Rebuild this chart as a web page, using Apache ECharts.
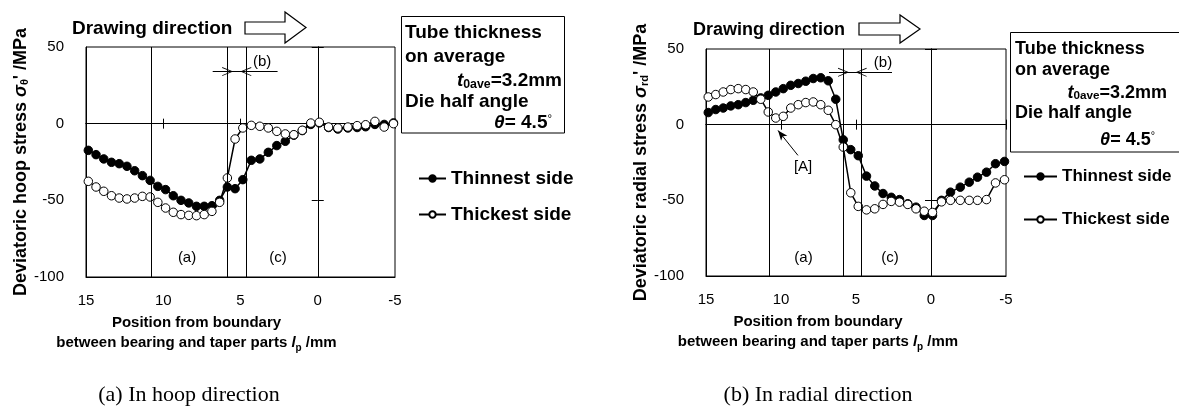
<!DOCTYPE html>
<html>
<head>
<meta charset="utf-8">
<script src="https://cdn.jsdelivr.net/npm/echarts@6.0.0/dist/echarts.min.js"></script>
<style>
html, body { margin: 0; padding: 0; background: #fff; }
#main { width: 1179px; height: 410px; }
</style>
</head>
<body>
<div id="main"></div>
<script>
// measuring positions (mm), shared by both panels
const positions = [14.85, 14.35, 13.85, 13.35, 12.85, 12.35, 11.85, 11.35, 10.85, 10.35,
  9.85, 9.35, 8.85, 8.35, 7.85, 7.35, 6.85, 6.35, 5.85, 5.35,
  4.85, 4.3, 3.75, 3.2, 2.65, 2.1, 1.55, 1.0, 0.45, -0.1,
  -0.7, -1.3, -1.95, -2.55, -3.1, -3.7, -4.3, -4.9]

// (a) hoop direction
const hoopThinnest = [-17.4, -20.2, -23, -25.2, -26.1, -27.8, -30.7, -33.9, -37, -40.9,
  -43, -47, -50, -51.7, -53.9, -53.9, -53.5, -50, -41.3, -42.4,
  -36.5, -23.9, -23, -18.7, -14.3, -11.5, -7.5, -4.5, -0.5, 0.5,
  -2.5, -3.5, -2.8, -2.5, -2, -0.5, -0.5, 0.5]
const hoopThickest = [-37.6, -41.3, -44.1, -47, -48.5, -49.1, -48.5, -47.4, -47.8, -51.3,
  -55, -57.8, -59.3, -59.8, -60, -59.3, -57.2, -51.3, -35.4, -10,
  -2.8, -1.1, -1.7, -2.8, -5, -6.7, -7.2, -4.3, 0.4, 0.9,
  -2.2, -2.8, -2.2, -1.3, -0.7, 1.5, -2.2, 0]

// (b) radial direction
const radialThinnest = [8, 10, 11, 12.4, 13.2, 14.6, 16.1, 17.7, 19.4, 21.6,
  23.8, 26, 27.2, 28.7, 30.5, 31, 29, 16.8, -10, -16.5,
  -20.5, -34, -40.5, -45.5, -48, -49.5, -52.3, -54.5, -60, -60,
  -50, -44.6, -41.3, -38, -34.7, -31.4, -25.8, -24.3]
const radialThickest = [18.3, 19.9, 21.6, 23.2, 23.8, 23.2, 21.6, 16.8, 8.4, 4.4,
  5.5, 11, 13.2, 14.6, 15, 13.2, 9.5, 0, -14.8, -45,
  -54, -56.3, -55.6, -52.7, -50.7, -51.2, -52.7, -55.6, -57.2, -58,
  -51, -50, -50, -50, -50, -49.5, -38.5, -36.4]

// region boundaries (a)|(b)|(c)|bearing
const boundaries = [10.8, 5.83, 4.66]
const xTicks = { min: -5, max: 15, interval: 5 }
const yTicks = { min: -100, max: 50, interval: 50 }
const legendNames = ['Thinnest side', 'Thickest side']

const FONT = 'Liberation Sans'
const chevron = 'path://M0,10 L5,0 L10,10 L9,10 L5,2 L1,10 Z'

let myChart = echarts.init(document.getElementById('main'))

function pairs(ys) {
  return positions.map((x, i) => [x, ys[i]])
}

function xAxes(g, yBase, nameGap, shift) {
  let base = { gridIndex: g, type: 'value', min: xTicks.min, max: xTicks.max, interval: xTicks.interval,
    inverse: true, position: 'bottom', splitLine: { show: false } }
  return [
    Object.assign({}, base, {
      axisLine: { show: true, onZero: false, lineStyle: { color: '#000', width: 1 } },
      axisTick: { show: false },
      axisLabel: { color: '#000', fontSize: 15, margin: 16, fontFamily: FONT },
      name: 'Position from boundary\nbetween bearing and taper parts {i|l}{p|p} /mm',
      nameLocation: 'middle', nameGap: nameGap,
      nameTextStyle: { color: '#000', fontSize: 15, fontWeight: 'bold', fontFamily: FONT, lineHeight: 20,
        padding: [0, shift, 0, 0],
        rich: {
          i: { fontSize: 15, fontWeight: 'bold', fontStyle: 'italic', fontFamily: FONT, color: '#000', lineHeight: 20 },
          p: { fontSize: 10, fontWeight: 'bold', fontFamily: FONT, color: '#000', verticalAlign: 'bottom', lineHeight: 20 }
        } }
    }),
    Object.assign({}, base, {
      axisLine: { show: true, onZero: true, onZeroAxisIndex: yBase, lineStyle: { color: '#000', width: 1 } },
      axisTick: { show: true, inside: true, length: 5, lineStyle: { color: '#000' } },
      axisLabel: { show: false }
    }),
    Object.assign({}, base, {
      axisLine: { show: true, onZero: true, onZeroAxisIndex: yBase, lineStyle: { color: '#000', width: 1 } },
      axisTick: { show: true, inside: false, length: 5, lineStyle: { color: '#000' } },
      axisLabel: { show: false }
    })
  ]
}

function yAxes(g, xBase, name, sub, nameGap) {
  let base = { gridIndex: g, type: 'value', min: yTicks.min, max: yTicks.max, interval: yTicks.interval,
    position: 'left', splitLine: { show: false } }
  return [
    Object.assign({}, base, {
      axisLine: { show: true, onZero: false, lineStyle: { color: '#000', width: 1 } },
      axisTick: { show: false },
      axisLabel: { color: '#000', fontSize: 15, margin: 22, fontFamily: FONT },
      name: name + ' {s|σ}{b|' + sub + '}{n|\' /MPa}',
      nameLocation: 'middle', nameRotate: 90, nameGap: nameGap,
      nameTextStyle: { color: '#000', fontSize: 18, fontWeight: 'bold', fontFamily: FONT,
        rich: {
          s: { fontSize: 18, fontWeight: 'bold', fontStyle: 'italic', fontFamily: FONT, color: '#000' },
          b: { fontSize: 11, fontWeight: 'bold', fontFamily: FONT, color: '#000', verticalAlign: 'bottom' },
          n: { fontSize: 18, fontWeight: 'bold', fontFamily: FONT, color: '#000' }
        } }
    }),
    Object.assign({}, base, {
      axisLine: { show: true, onZero: true, onZeroAxisIndex: xBase, lineStyle: { color: '#000', width: 1 } },
      axisTick: { show: true, inside: true, length: 6, lineStyle: { color: '#000' } },
      axisLabel: { show: false }
    }),
    Object.assign({}, base, {
      axisLine: { show: true, onZero: true, onZeroAxisIndex: xBase, lineStyle: { color: '#000', width: 1 } },
      axisTick: { show: true, inside: false, length: 6, lineStyle: { color: '#000' } },
      axisLabel: { show: false }
    })
  ]
}

function labelPoints(list) {
  return {
    symbol: 'rect', symbolSize: 1, silent: true, animation: false,
    itemStyle: { color: 'rgba(0,0,0,0)' },
    label: { show: true, position: 'inside', formatter: '{b}', color: '#000', fontSize: 15, fontFamily: FONT },
    data: list.map(p => ({ name: p[0], coord: [p[1], p[2]] }))
  }
}

function regionLines(yB, xFrom, xTo) {
  let data = boundaries.map(b => ({ xAxis: b }))
  data.push([{ coord: [xFrom, yB] }, { coord: [boundaries[1], yB], symbol: chevron, symbolSize: [9, 11] }])
  data.push([{ coord: [xTo, yB] }, { coord: [boundaries[2], yB], symbol: chevron, symbolSize: [9, 11] }])
  data.push([{ coord: [boundaries[1], yB] }, { coord: [boundaries[2], yB] }])
  return {
    silent: true, animation: false, symbol: ['none', 'none'],
    label: { show: false },
    lineStyle: { color: '#000', width: 1, type: 'solid' },
    data: data
  }
}

function lineSeries(name, g, ys, filled, extra) {
  return Object.assign({
    name: name, type: 'line', xAxisIndex: g * 3, yAxisIndex: g * 3,
    data: pairs(ys), symbol: 'circle', symbolSize: 8.5, showSymbol: true,
    lineStyle: { color: '#000', width: 1.5 },
    itemStyle: { color: filled ? '#000' : '#fff', borderColor: '#000', borderWidth: 1 },
    z: filled ? 3 : 4
  }, extra || {})
}

function textBox(x0, y0, w, h, tx, ys, rx1, rx2, size) {
  let font = { fontSize: size, fontWeight: 'bold', fontFamily: FONT, fill: '#000', verticalAlign: 'middle' }
  return [
    { type: 'rect', shape: { x: x0, y: y0, width: w, height: h }, style: { fill: '#fff', stroke: '#000', lineWidth: 1 } },
    { type: 'text', x: tx, y: ys[0], style: Object.assign({ text: 'Tube thickness' }, font) },
    { type: 'text', x: tx, y: ys[1], style: Object.assign({ text: 'on average' }, font) },
    { type: 'text', x: rx1, y: ys[2], style: Object.assign({ text: '{t|t}{s|0ave}=3.2mm', align: 'right',
      rich: { t: { fontSize: size, fontWeight: 'bold', fontStyle: 'italic', fontFamily: FONT, fill: '#000' },
              s: { fontSize: size * 0.65, fontWeight: 'bold', fontFamily: FONT, fill: '#000', verticalAlign: 'bottom' } } }, font) },
    { type: 'text', x: tx, y: ys[3], style: Object.assign({ text: 'Die half angle' }, font) },
    { type: 'text', x: rx2, y: ys[4], style: Object.assign({ text: '{t|θ}= 4.5{d|°}', align: 'right',
      rich: { t: { fontSize: size, fontWeight: 'bold', fontStyle: 'italic', fontFamily: FONT, fill: '#000' },
              d: { fontSize: size * 0.6, fontFamily: FONT, fill: '#000', verticalAlign: 'top' } } }, font) }
  ]
}

function drawingArrow(tx, ty, pts, size) {
  return [
    { type: 'text', x: tx, y: ty, style: { text: 'Drawing direction', fontSize: size, fontWeight: 'bold', fontFamily: FONT, fill: '#000', verticalAlign: 'middle' } },
    { type: 'polygon', shape: { points: pts }, style: { fill: '#fff', stroke: '#000', lineWidth: 1.2 } }
  ]
}

let option = {
  animation: false,
  backgroundColor: '#fff',
  textStyle: { fontFamily: FONT, color: '#000' },
  grid: [
    { left: 86, top: 47, width: 309, height: 230, show: true, borderColor: '#000', borderWidth: 1, backgroundColor: 'rgba(0,0,0,0)' },
    { left: 706, top: 49, width: 300, height: 227, show: true, borderColor: '#000', borderWidth: 1, backgroundColor: 'rgba(0,0,0,0)' }
  ],
  xAxis: xAxes(0, 0, 28, 88).concat(xAxes(1, 3, 25, 76)),
  yAxis: yAxes(0, 0, 'Deviatoric hoop stress', 'θ', 48).concat(yAxes(1, 3, 'Deviatoric radial stress', 'rd', 54)),
  legend: [
    { orient: 'vertical', left: 413, top: 164, itemGap: 17, itemWidth: 27, itemHeight: 8, selectedMode: false,
      data: legendNames, textStyle: { fontSize: 19, fontWeight: 'bold', color: '#000', fontFamily: FONT } },
    { orient: 'vertical', left: 1018, top: 163, itemGap: 26, itemWidth: 33, itemHeight: 8, selectedMode: false,
      data: legendNames, textStyle: { fontSize: 17, fontWeight: 'bold', color: '#000', fontFamily: FONT } }
  ],
  series: [
    lineSeries(legendNames[0], 0, hoopThinnest, true, {
      markLine: regionLines(34, 6.8, 2.6),
      markPoint: labelPoints([['(a)', 8.46, -87.6], ['(c)', 2.57, -87.6], ['(b)', 3.6, 40.5]])
    }),
    lineSeries(legendNames[1], 0, hoopThickest, false),
    lineSeries(legendNames[0], 1, radialThinnest, true, {
      markLine: regionLines(34.6, 6.8, 2.6),
      markPoint: labelPoints([['(a)', 8.5, -88], ['(c)', 2.73, -88], ['(b)', 3.2, 40.6], ['[A]', 8.53, -28]])
    }),
    lineSeries(legendNames[1], 1, radialThickest, false, {
      markLine: {
        silent: true, animation: false, symbol: ['none', 'none'], label: { show: false },
        lineStyle: { color: '#000', width: 1, type: 'solid' },
        data: [[{ coord: [8.87, -20.3] }, { coord: [10.2, -3.8], symbol: 'arrow', symbolSize: [6, 10] }]]
      }
    })
  ],
  graphic: [].concat(
    drawingArrow(72, 29, [[245, 22], [285, 22], [285, 12], [306, 27.5], [285, 43], [285, 34], [245, 34]], 19),
    drawingArrow(693, 30, [[859, 23], [900, 23], [900, 15], [920, 29], [900, 43], [900, 35], [859, 35]], 18),
    textBox(401.5, 16.5, 163, 116.5, 405, [33, 57, 81, 102, 123], 562, 552, 19),
    textBox(1010.5, 32.5, 180, 119.5, 1015, [49, 70, 93, 113, 140], 1167, 1155, 18),
    [
      { type: 'text', x: 189, y: 395, style: { text: '(a) In hoop direction', fontSize: 22, fontFamily: 'Liberation Serif', fill: '#000', align: 'center', verticalAlign: 'middle' } },
      { type: 'text', x: 818, y: 395, style: { text: '(b) In radial direction', fontSize: 22, fontFamily: 'Liberation Serif', fill: '#000', align: 'center', verticalAlign: 'middle' } }
    ]
  )
}

myChart.setOption(option)
window.addEventListener('resize', function () {
  myChart.resize()
})
</script>
</body>
</html>
